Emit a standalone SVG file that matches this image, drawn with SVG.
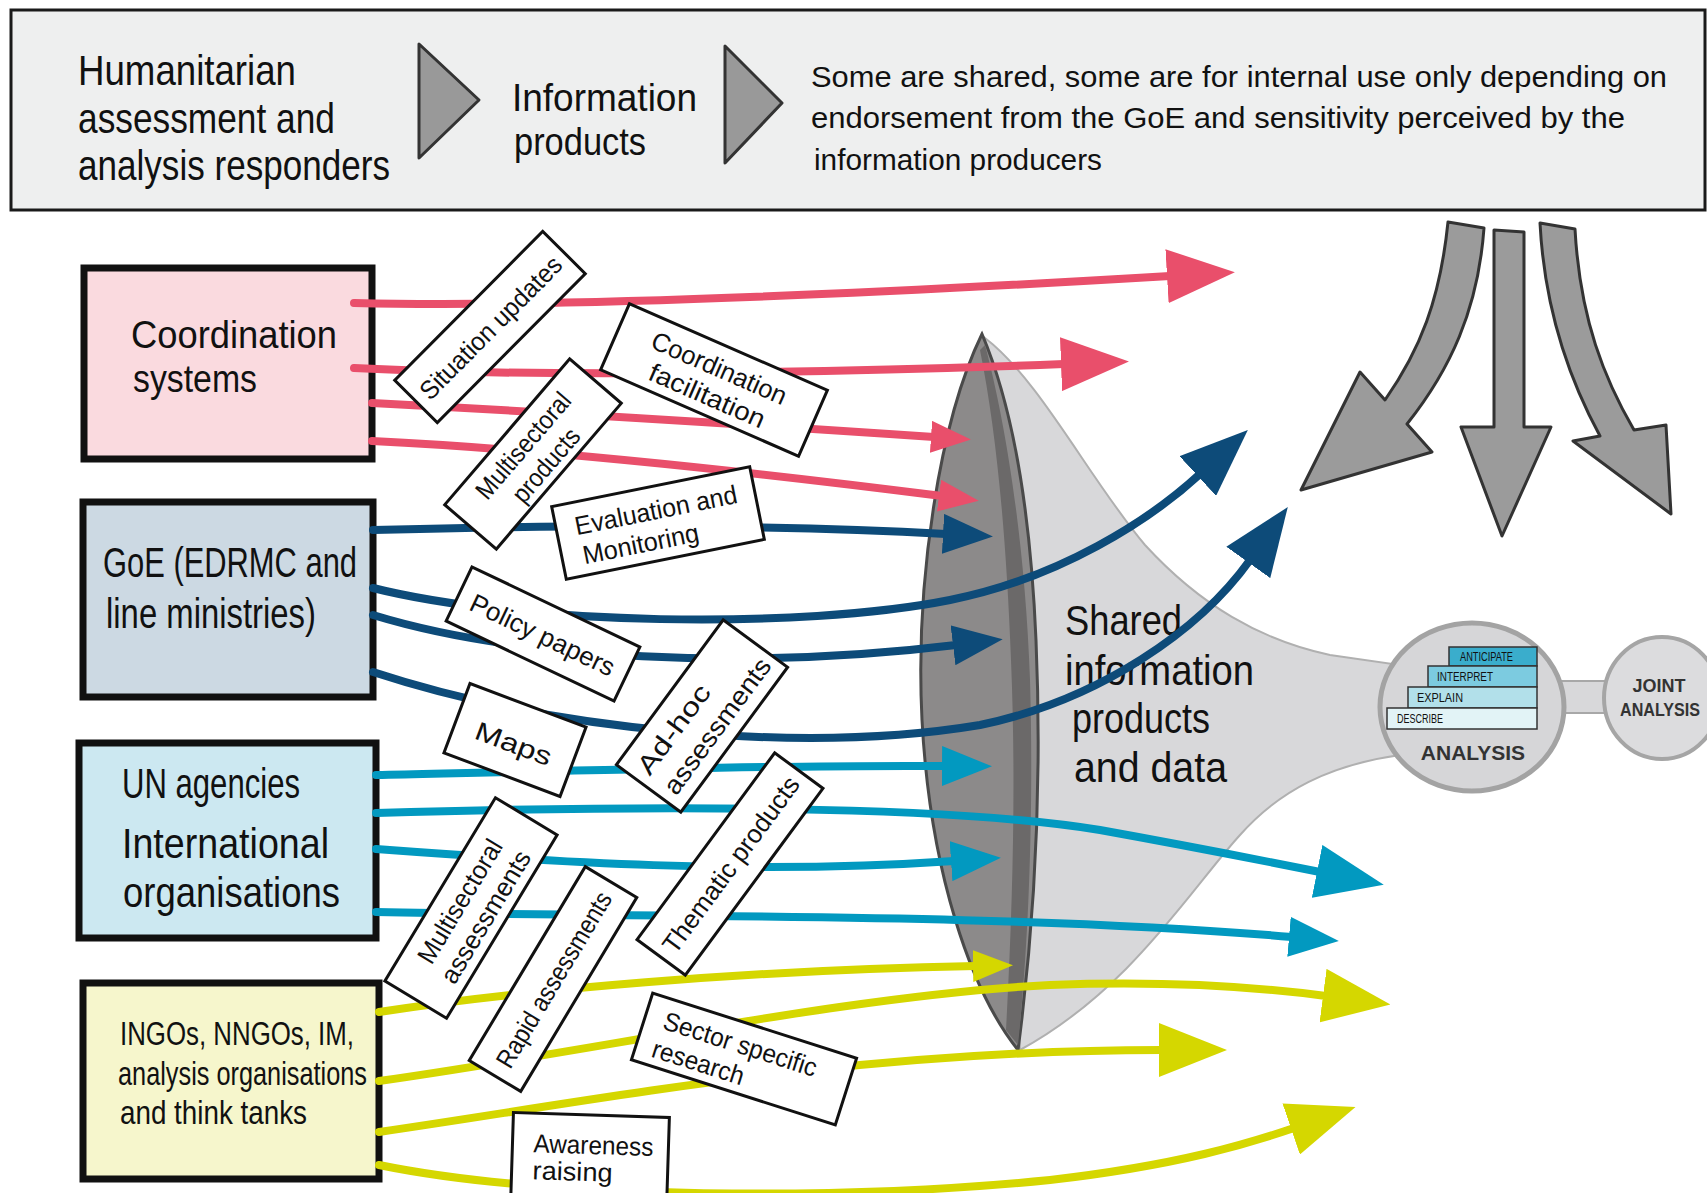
<svg xmlns="http://www.w3.org/2000/svg" width="1707" height="1193" viewBox="0 0 1707 1193">
<style>
text{font-family:"Liberation Sans Narrow","Liberation Sans",Arial,sans-serif;fill:#111;}
.hdr{font-size:42px;}
.hdr2{font-size:30px;}
.box{stroke:#111;stroke-width:7;}
.lbl rect{fill:#fff;stroke:#111;stroke-width:3;}
.lbl text{font-size:26px;text-anchor:middle;}
.conn path{fill:none;stroke-width:8;stroke-linecap:round;}
.red{stroke:#e94f6b;} .blue{stroke:#0d4b79;} .teal{stroke:#0299c0;} .yel{stroke:#d5d700;}
.garrow{fill:#9b9b9b;stroke:#333;stroke-width:3;stroke-linejoin:round;}
.step{stroke:#333;stroke-width:1.5;}
.stept{font-size:12px;}
.ana{font-weight:bold;fill:#333;text-anchor:middle;}
</style>
<defs>
<marker id="rL" markerUnits="userSpaceOnUse" viewBox="0 0 68 54" markerWidth="68" markerHeight="54" refX="3" refY="27" orient="auto"><path d="M0,0 L68,27 L0,54 Z" fill="#e94f6b"/></marker>
<marker id="rS" markerUnits="userSpaceOnUse" viewBox="0 0 40 32" markerWidth="40" markerHeight="32" refX="3" refY="16" orient="auto"><path d="M0,0 L40,16 L0,32 Z" fill="#e94f6b"/></marker>
<marker id="bL" markerUnits="userSpaceOnUse" viewBox="0 0 68 54" markerWidth="68" markerHeight="54" refX="3" refY="27" orient="auto"><path d="M0,0 L68,27 L0,54 Z" fill="#0d4b79"/></marker>
<marker id="bM" markerUnits="userSpaceOnUse" viewBox="0 0 50 40" markerWidth="50" markerHeight="40" refX="3" refY="20" orient="auto"><path d="M0,0 L50,20 L0,40 Z" fill="#0d4b79"/></marker>
<marker id="tL" markerUnits="userSpaceOnUse" viewBox="0 0 68 54" markerWidth="68" markerHeight="54" refX="3" refY="27" orient="auto"><path d="M0,0 L68,27 L0,54 Z" fill="#0299c0"/></marker>
<marker id="tM" markerUnits="userSpaceOnUse" viewBox="0 0 50 40" markerWidth="50" markerHeight="40" refX="3" refY="20" orient="auto"><path d="M0,0 L50,20 L0,40 Z" fill="#0299c0"/></marker>
<marker id="yL" markerUnits="userSpaceOnUse" viewBox="0 0 68 54" markerWidth="68" markerHeight="54" refX="3" refY="27" orient="auto"><path d="M0,0 L68,27 L0,54 Z" fill="#d5d700"/></marker>
<marker id="yS" markerUnits="userSpaceOnUse" viewBox="0 0 40 32" markerWidth="40" markerHeight="32" refX="3" refY="16" orient="auto"><path d="M0,0 L40,16 L0,32 Z" fill="#d5d700"/></marker>
</defs>
<rect width="1707" height="1193" fill="#fff"/>

<g id="header">
<rect x="11" y="10" width="1694" height="200" fill="#eeefef" stroke="#1a1a1a" stroke-width="3"/>
<text class="hdr" x="78" y="85" textLength="218" lengthAdjust="spacingAndGlyphs">Humanitarian</text>
<text class="hdr" x="78" y="133" textLength="257" lengthAdjust="spacingAndGlyphs">assessment and</text>
<text class="hdr" x="78" y="180" textLength="312" lengthAdjust="spacingAndGlyphs">analysis responders</text>
<polygon points="419,44 419,158 479,100" fill="#999" stroke="#333" stroke-width="3" stroke-linejoin="round"/>
<text x="512" y="111" font-size="38" textLength="185" lengthAdjust="spacingAndGlyphs">Information</text>
<text x="514" y="155" font-size="38" textLength="132" lengthAdjust="spacingAndGlyphs">products</text>
<polygon points="725,46 725,163 782,103" fill="#999" stroke="#333" stroke-width="3" stroke-linejoin="round"/>
<text class="hdr2" x="811" y="87" textLength="856" lengthAdjust="spacingAndGlyphs">Some are shared, some are for internal use only depending on</text>
<text class="hdr2" x="811" y="128" textLength="814" lengthAdjust="spacingAndGlyphs">endorsement from the GoE and sensitivity perceived by the</text>
<text class="hdr2" x="814" y="170" textLength="288" lengthAdjust="spacingAndGlyphs">information producers</text>
</g>

<g id="funnel">
<path d="M985,338 C1040,380 1090,480 1145,545 C1200,605 1260,640 1330,655 L1400,665 L1400,755 C1330,765 1280,790 1240,835 C1190,890 1130,990 1020,1050 Z" fill="#d8d8da" stroke="#b0b0b0" stroke-width="2"/>
<path d="M982,334 C940,420 915,580 922,720 C930,870 970,990 1018,1050 C1035,920 1042,780 1036,640 C1030,500 1010,400 982,334 Z" fill="#8c8a8a" stroke="#4a4a4a" stroke-width="3"/>
<path d="M985,345 C1005,420 1025,540 1030,680 C1034,820 1028,950 1018,1045 L1006,1030 C1013,900 1016,780 1011,660 C1006,530 996,430 980,350 Z" fill="#6b6969"/>
<text x="1065" y="635" font-size="42" textLength="117" lengthAdjust="spacingAndGlyphs">Shared</text>
<text x="1065" y="685" font-size="42" textLength="189" lengthAdjust="spacingAndGlyphs">information</text>
<text x="1072" y="733" font-size="42" textLength="138" lengthAdjust="spacingAndGlyphs">products</text>
<text x="1074" y="782" font-size="42" textLength="153" lengthAdjust="spacingAndGlyphs">and data</text>
</g>

<g id="analysis">
<rect x="1550" y="681" width="70" height="32" fill="#d8d8da" stroke="#a8a8a8" stroke-width="2"/>
<ellipse cx="1662" cy="698" rx="58" ry="61" fill="#dcdcde" stroke="#a5a5a5" stroke-width="4"/>
<ellipse cx="1472" cy="707" rx="92" ry="84" fill="#d6d6d8" stroke="#a3a3a3" stroke-width="5"/>
<rect class="step" x="1449" y="647" width="88" height="19" fill="#3aadcc"/>
<rect class="step" x="1428" y="666" width="109" height="21" fill="#7ccbe0"/>
<rect class="step" x="1408" y="687" width="129" height="21" fill="#b2e0ea"/>
<rect class="step" x="1387" y="708" width="150" height="21" fill="#e2f3f6"/>
<text class="stept" x="1460" y="661" textLength="53" lengthAdjust="spacingAndGlyphs">ANTICIPATE</text>
<text class="stept" x="1437" y="681" textLength="56" lengthAdjust="spacingAndGlyphs">INTERPRET</text>
<text class="stept" x="1417" y="702" textLength="46" lengthAdjust="spacingAndGlyphs">EXPLAIN</text>
<text class="stept" x="1397" y="723" textLength="46" lengthAdjust="spacingAndGlyphs">DESCRIBE</text>
<text class="ana" x="1473" y="760" font-size="21">ANALYSIS</text>
<text class="ana" x="1659" y="692" font-size="18">JOINT</text>
<text class="ana" x="1660" y="716" font-size="18" textLength="80" lengthAdjust="spacingAndGlyphs">ANALYSIS</text>
</g>

<g id="gray-arrows">
<path class="garrow" d="M1448,222 L1484,228 C1478,310 1450,370 1407,424 L1432,452 L1301,490 L1360,372 L1385,400 C1420,350 1440,300 1448,222 Z"/>
<path class="garrow" d="M1494,230 L1524,232 L1524,427 L1551,427 L1502,536 L1461,427 L1494,427 Z"/>
<path class="garrow" d="M1540,223 L1575,229 C1580,320 1605,380 1634,430 L1666,425 L1671,514 L1573,441 L1600,436 C1575,390 1545,320 1540,223 Z"/>
</g>

<g id="node-coordination">
<rect class="box" x="84" y="268" width="288" height="191" fill="#fadadf"/>
<text x="131" y="348" font-size="38" textLength="206" lengthAdjust="spacingAndGlyphs">Coordination</text>
<text x="133" y="392" font-size="38" textLength="124" lengthAdjust="spacingAndGlyphs">systems</text>
</g>
<g id="node-goe">
<rect class="box" x="83" y="502" width="290" height="195" fill="#ccd9e3"/>
<text x="103" y="577" font-size="42" textLength="254" lengthAdjust="spacingAndGlyphs">GoE (EDRMC and</text>
<text x="106" y="628" font-size="42" textLength="210" lengthAdjust="spacingAndGlyphs">line ministries)</text>
</g>
<g id="node-un">
<rect class="box" x="79" y="743" width="297" height="195" fill="#cce8f1"/>
<text x="122" y="798" font-size="42" textLength="178" lengthAdjust="spacingAndGlyphs">UN agencies</text>
<text x="122" y="858" font-size="42" textLength="207" lengthAdjust="spacingAndGlyphs">International</text>
<text x="123" y="907" font-size="42" textLength="217" lengthAdjust="spacingAndGlyphs">organisations</text>
</g>
<g id="node-ngo">
<rect class="box" x="83" y="983" width="296" height="196" fill="#f6f6cc"/>
<text x="120" y="1045" font-size="33" textLength="234" lengthAdjust="spacingAndGlyphs">INGOs, NNGOs, IM,</text>
<text x="118" y="1085" font-size="33" textLength="249" lengthAdjust="spacingAndGlyphs">analysis organisations</text>
<text x="120" y="1124" font-size="33" textLength="187" lengthAdjust="spacingAndGlyphs">and think tanks</text>
</g>

<g id="connectors" class="conn">
<path class="red" d="M354,303 C560,308 900,292 1170,276" marker-end="url(#rL)"/>
<path class="red" d="M354,368 C550,378 850,372 1064,364" marker-end="url(#rL)"/>
<path class="red" d="M372,403 C600,415 800,428 934,437" marker-end="url(#rS)"/>
<path class="red" d="M372,441 C560,450 800,478 942,496" marker-end="url(#rS)"/>
<path class="blue" d="M373,530 C600,524 800,526 946,534" marker-end="url(#bM)"/>
<path class="blue" d="M373,588 C520,625 800,630 950,600 C1060,578 1150,520 1200,474" marker-end="url(#bL)"/>
<path class="blue" d="M373,615 C520,660 750,670 956,645" marker-end="url(#bM)"/>
<path class="blue" d="M373,672 C550,730 800,755 980,725 C1100,700 1200,630 1250,560" marker-end="url(#bL)"/>
<path class="teal" d="M376,775 C600,770 800,765 945,766" marker-end="url(#tM)"/>
<path class="teal" d="M376,813 C650,805 950,805 1100,830 C1200,848 1270,862 1320,872" marker-end="url(#tL)"/>
<path class="teal" d="M376,849 C550,862 750,875 954,861" marker-end="url(#tM)"/>
<path class="teal" d="M376,912 C650,918 1000,912 1292,937" marker-end="url(#tM)"/>
<path class="yel" d="M379,1012 C520,990 750,970 976,966" marker-end="url(#yS)"/>
<path class="yel" d="M379,1081 C600,1050 850,995 1050,985 C1180,980 1280,990 1326,996" marker-end="url(#yL)"/>
<path class="yel" d="M379,1132 C600,1100 850,1050 1162,1050" marker-end="url(#yL)"/>
<path class="yel" d="M379,1165 C550,1200 850,1200 1050,1180 C1180,1165 1250,1143 1294,1128" marker-end="url(#yL)"/>
</g>

<g id="lbl-situation" class="lbl" transform="translate(490,327) rotate(-45.2)">
<rect x="-105" y="-30" width="210" height="60"/>
<text y="10" font-size="27" textLength="190" lengthAdjust="spacingAndGlyphs">Situation updates</text>
</g>
<g id="lbl-coordination-facilitation" class="lbl" transform="translate(714,380) rotate(23.6)">
<rect x="-108" y="-36" width="216" height="72"/>
<text y="-4" textLength="145" lengthAdjust="spacingAndGlyphs">Coordination</text>
<text y="26" textLength="124" lengthAdjust="spacingAndGlyphs">facilitation</text>
</g>
<g id="lbl-multisectoral-products" class="lbl" transform="translate(533,454) rotate(-49.4)">
<rect x="-96" y="-34" width="192" height="68"/>
<text y="-4" textLength="131" lengthAdjust="spacingAndGlyphs">Multisectoral</text>
<text y="26" textLength="89" lengthAdjust="spacingAndGlyphs">products</text>
</g>
<g id="lbl-evaluation" class="lbl" transform="translate(658,523) rotate(-11.4)">
<rect x="-101" y="-37" width="202" height="74"/>
<text x="-82" y="-4" style="text-anchor:start" textLength="165" lengthAdjust="spacingAndGlyphs">Evaluation and</text>
<text x="-80" y="26" style="text-anchor:start" textLength="118" lengthAdjust="spacingAndGlyphs">Monitoring</text>
</g>
<g id="lbl-policy" class="lbl" transform="translate(543,634) rotate(25.5)">
<rect x="-93" y="-30" width="186" height="60"/>
<text y="10" font-size="30" textLength="157" lengthAdjust="spacingAndGlyphs">Policy papers</text>
</g>
<g id="lbl-maps" class="lbl" transform="translate(515,740) rotate(20.6)">
<rect x="-62" y="-37" width="124" height="74"/>
<text y="13" font-size="38" textLength="80" lengthAdjust="spacingAndGlyphs">Maps</text>
</g>
<g id="lbl-adhoc" class="lbl" transform="translate(702,716) rotate(-53.6)">
<rect x="-90" y="-40" width="180" height="80"/>
<text x="-80" y="-6" font-size="29" style="text-anchor:start" textLength="105" lengthAdjust="spacingAndGlyphs">Ad-hoc</text>
<text x="-80" y="27" font-size="29" style="text-anchor:start" textLength="162" lengthAdjust="spacingAndGlyphs">assessments</text>
</g>
<g id="lbl-thematic" class="lbl" transform="translate(730,864) rotate(-53.6)">
<rect x="-116" y="-30" width="232" height="60"/>
<text y="10" font-size="30" textLength="212" lengthAdjust="spacingAndGlyphs">Thematic products</text>
</g>
<g id="lbl-multisectoral-assessments" class="lbl" transform="translate(471,908) rotate(-58.9)">
<rect x="-107" y="-36" width="214" height="72"/>
<text y="-4" textLength="140" lengthAdjust="spacingAndGlyphs">Multisectoral</text>
<text y="26" textLength="150" lengthAdjust="spacingAndGlyphs">assessments</text>
</g>
<g id="lbl-rapid" class="lbl" transform="translate(553,979) rotate(-59.1)">
<rect x="-113" y="-30" width="226" height="60"/>
<text y="10" font-size="28" textLength="200" lengthAdjust="spacingAndGlyphs">Rapid assessments</text>
</g>
<g id="lbl-sector" class="lbl" transform="translate(744,1059) rotate(17.7)">
<rect x="-107" y="-35" width="214" height="70"/>
<text x="-88" y="-4" style="text-anchor:start" textLength="160" lengthAdjust="spacingAndGlyphs">Sector specific</text>
<text x="-90" y="26" style="text-anchor:start" textLength="95" lengthAdjust="spacingAndGlyphs">research</text>
</g>
<g id="lbl-awareness" class="lbl" transform="translate(590,1160) rotate(1.8)">
<rect x="-78" y="-45" width="156" height="95"/>
<text x="-57" y="-6" font-size="24" style="text-anchor:start" textLength="120" lengthAdjust="spacingAndGlyphs">Awareness</text>
<text x="-57" y="21" font-size="24" style="text-anchor:start" textLength="80" lengthAdjust="spacingAndGlyphs">raising</text>
</g>
</svg>
